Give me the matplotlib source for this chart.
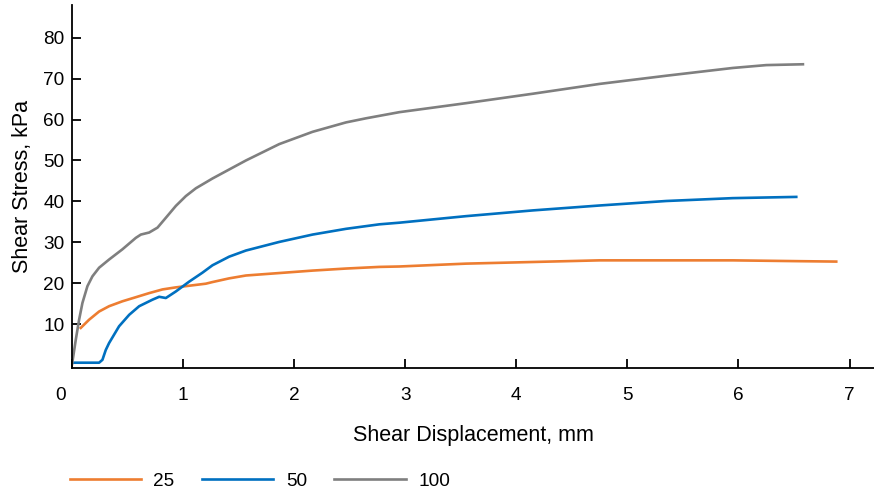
import matplotlib
matplotlib.use("Agg")
import matplotlib.pyplot as plt
import matplotlib.transforms as mtransforms

plt.rcParams['font.family'] = ['Liberation Sans', 'DejaVu Sans']

# 25 kPa
x_25 = [0.078, 0.153, 0.243, 0.333, 0.453, 0.574, 0.694, 0.814, 0.934, 1.054, 1.204, 1.264, 1.414,
        1.565, 1.865, 2.165, 2.466, 2.766, 2.946, 3.547, 4.147, 4.748, 5.349, 5.949, 6.55, 6.88]
y_25 = [9.1, 11.1, 13.1, 14.4, 15.6, 16.6, 17.6, 18.5, 19.0, 19.4, 19.9, 20.3, 21.2,
        21.9, 22.5, 23.1, 23.6, 24.0, 24.1, 24.8, 25.2, 25.6, 25.6, 25.6, 25.4, 25.3]

# 50 kPa
x_50 = [0.003, 0.243, 0.273, 0.303, 0.333, 0.423, 0.514, 0.604, 0.724, 0.784, 0.844, 0.934, 1.054,
        1.174, 1.264, 1.414, 1.565, 1.865, 2.165, 2.466, 2.766, 2.946, 3.547, 4.147, 4.748, 5.349,
        5.949, 6.52]
y_50 = [0.6, 0.6, 1.3, 3.7, 5.4, 9.5, 12.3, 14.4, 16.0, 16.7, 16.4, 18.0, 20.4,
        22.6, 24.4, 26.5, 28.0, 30.1, 31.9, 33.3, 34.4, 34.8, 36.4, 37.8, 39.0, 40.1,
        40.8, 41.1]

# 100 kPa
x_100 = [0.0, 0.033, 0.063, 0.093, 0.138, 0.183, 0.243, 0.333, 0.453, 0.574, 0.619, 0.694, 0.769,
         0.844, 0.934, 1.024, 1.114, 1.264, 1.565, 1.865, 2.165, 2.466, 2.646, 2.946, 3.547, 4.147,
         4.748, 5.349, 5.949, 6.25, 6.58]
y_100 = [0.3, 6.2, 11.1, 15.2, 19.3, 21.7, 23.8, 25.8, 28.3, 31.1, 31.9, 32.4, 33.6,
         36.0, 38.9, 41.3, 43.2, 45.6, 50.0, 54.0, 57.0, 59.3, 60.3, 61.8, 64.0, 66.3,
         68.7, 70.7, 72.6, 73.3, 73.5]

xticks = [0, 1, 2, 3, 4, 5, 6, 7]
yticks = [10, 20, 30, 40, 50, 60, 70, 80]

fig = plt.figure(figsize=(8.74, 4.92), dpi=100)
ax = fig.add_axes([0.0825, 0.252, 0.9175, 0.738])

ax.plot(x_25, y_25, color='#ED7D31', lw=1.9, label='25', solid_joinstyle='round')
ax.plot(x_50, y_50, color='#0070C0', lw=1.9, label='50', solid_joinstyle='round')
ax.plot(x_100, y_100, color='#7F7F7F', lw=1.9, label='100', solid_joinstyle='round')

ax.set_xlim(0, 7.22)
ax.set_ylim(-0.7, 88)
ax.set_xticks(xticks)
ax.set_yticks(yticks)

for s in ['top', 'right']:
    ax.spines[s].set_visible(False)
for s in ['left', 'bottom']:
    ax.spines[s].set_linewidth(1.3)

ax.tick_params(axis='x', direction='in', length=6.5, width=1.3, labelsize=13.7, pad=14)
ax.tick_params(axis='y', direction='in', length=6.5, width=1.3, labelsize=13.7, pad=5.5)

# zero label sits a little left of the origin
lbl0 = ax.get_xticklabels()[0]
lbl0.set_transform(lbl0.get_transform() + mtransforms.ScaledTranslation(-12/100, 0, fig.dpi_scale_trans))

ax.set_xlabel('Shear Displacement, mm', fontsize=15.5, labelpad=15)
ax.set_ylabel('Shear Stress, kPa', fontsize=15.5, labelpad=7)

fig.legend(loc='lower left', bbox_to_anchor=(0.06, -0.03), ncol=3, frameon=False,
           fontsize=13.7, handlelength=3.75, columnspacing=1.45, handletextpad=0.65)

fig.savefig('out.png', dpi=100)
